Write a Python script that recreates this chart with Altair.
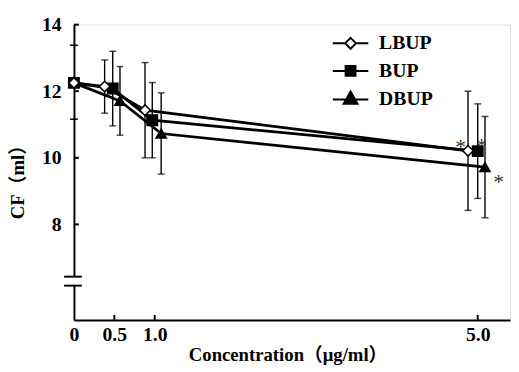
import altair as alt
import pandas as pd

# ---- data ----
series_names = ["LBUP", "BUP", "DBUP"]
tick_values = [0, 0.5, 1.0, 5.0]           # concentration ticks (ug/ml)

# plotted x positions (points are slightly staggered around each concentration)
lbup_x = [0, 0.38, 0.88, 4.88]
bup_x = [0, 0.48, 0.97, 5.00]
dbup_x = [0, 0.57, 1.08, 5.09]

lbup_y = [12.25, 12.14, 11.43, 10.21]
bup_y = [12.25, 12.08, 11.13, 10.20]
dbup_y = [12.25, 11.71, 10.73, 9.72]

lbup_sd = [0, 0.80, 1.43, 1.79]
bup_sd = [0, 1.12, 1.13, 1.42]
dbup_sd = [0, 1.03, 1.22, 1.52]

ast_x = [4.79, 5.05, 5.26]
ast_y = [10.54, 10.57, 9.47]

y_major = [8, 10, 12, 14]
y_minor = [13.38, 11.16]
x_ticks = [0.5, 1.0, 5.0]
break_y = [6.16, 6.43]

# ---- tables ----
rows = []
for name, xs_, ys_, sds in [("LBUP", lbup_x, lbup_y, lbup_sd),
                            ("BUP", bup_x, bup_y, bup_sd),
                            ("DBUP", dbup_x, dbup_y, dbup_sd)]:
    for xv, yv, sv in zip(xs_, ys_, sds):
        rows.append({"series": name, "x": xv, "y": yv, "sd": sv,
                     "lo": yv - sv, "hi": yv + sv})
df = pd.DataFrame(rows)
df_pts = df.iloc[::-1].reset_index(drop=True)   # LBUP drawn on top
err = df[df["sd"] > 0]
ast = pd.DataFrame({"x": ast_x, "y": ast_y, "t": ["*"] * len(ast_x)})
ymaj = pd.DataFrame({"y": y_major})
ymin = pd.DataFrame({"y": y_minor})
xtk = pd.DataFrame({"x": x_ticks})
brk = pd.DataFrame({"y": break_y})
gap = pd.DataFrame({"y": [break_y[0]], "y2": [break_y[1]]})

FONT = "Liberation Serif"
TFONT = "Liberation Serif, Noto Sans CJK SC"

xs = alt.Scale(domain=[0, 5.4], nice=False, zero=False)
ys = alt.Scale(domain=[5.13, 14], nice=False, zero=False)

xaxis = alt.Axis(
    values=tick_values, labelExpr="datum.value == 0 ? '0' : format(datum.value, '.1f')",
    ticks=False, grid=False, domainColor="black", domainWidth=2,
    labelFont=FONT, labelFontSize=20, labelFontWeight="bold", labelColor="black",
    labelPadding=5, labelFlush=False,
    title="Concentration（μg/ml）", titleFont=TFONT, titleFontSize=19,
    titleFontWeight="bold", titleColor="black", titleX=217, titleY=41,
    titleBaseline="alphabetic", titleAlign="center")
yaxis = alt.Axis(
    values=y_major, ticks=False, grid=False, domainColor="black", domainWidth=2,
    labelFont=FONT, labelFontSize=20, labelFontWeight="bold", labelColor="black",
    labelPadding=13,
    title="CF（ml）", titleFont=TFONT, titleFontSize=19, titleFontWeight="bold",
    titleColor="black", titleX=-57, titleY=155, titleAngle=-90,
    titleAlign="center", titleBaseline="middle")

X = alt.X("x:Q", scale=xs, axis=xaxis)
Y = alt.Y("y:Q", scale=ys, axis=yaxis)

errbars = alt.Chart(err).mark_errorbar(
    ticks={"size": 7, "thickness": 1.5, "color": "black"},
    thickness=1.4, color="black").encode(
    x=X, y=alt.Y("lo:Q", scale=ys, axis=yaxis), y2="hi:Q")

lines = alt.Chart(df).mark_line(color="black", strokeWidth=2.8).encode(
    x=X, y=Y, detail="series:N", order="x:Q")

points = alt.Chart(df_pts).mark_point(filled=True, stroke="black", strokeWidth=1.6,
                                      opacity=1).encode(
    x=X, y=Y,
    shape=alt.Shape("series:N", scale=alt.Scale(domain=series_names,
                    range=["diamond", "square", "triangle-up"]), legend=None),
    fill=alt.Fill("series:N", scale=alt.Scale(domain=series_names,
                  range=["white", "black", "black"]), legend=None),
    size=alt.Size("series:N", scale=alt.Scale(domain=series_names,
                  range=[115, 105, 175]), legend=None))

legend_paths = [
    "M-1.8,0H-0.55M0.55,0H1.8M0,-0.55L0.55,0L0,0.55L-0.55,0Z",
    "M-1.8,0H1.8M-0.5,-0.5H0.5V0.5H-0.5Z",
    "M-1.8,0H1.8M0,-0.8L0.7,0.45L-0.7,0.45Z",
]
leg = alt.Legend(orient="none", legendX=270, legendY=8, title=None,
                 labelFont=FONT, labelFontSize=20, labelFontWeight="bold",
                 labelColor="black", symbolSize=400, symbolStrokeColor="black",
                 symbolStrokeWidth=2, symbolOpacity=1, labelOffset=18,
                 rowPadding=7, padding=0)
legend_layer = alt.Chart(df).transform_filter("false").mark_point(
    filled=True, stroke="black", strokeWidth=2, opacity=1).encode(
    x=X, y=Y,
    shape=alt.Shape("series:N", scale=alt.Scale(domain=series_names,
                    range=legend_paths), legend=leg),
    fill=alt.Fill("series:N", scale=alt.Scale(domain=series_names,
                  range=["white", "black", "black"]), legend=leg),
    stroke=alt.Stroke("series:N", scale=alt.Scale(domain=series_names,
                      range=["black", "black", "black"]), legend=leg))

stars = alt.Chart(ast).mark_text(font=FONT, fontSize=22, color="#333",
                                 baseline="middle", dy=7).encode(
    x=X, y=Y, text="t:N")

ymaj_ticks = alt.Chart(ymaj).mark_rule(color="black", strokeWidth=2).encode(
    y=Y, x=alt.value(0), x2=alt.value(5))
ymin_ticks = alt.Chart(ymin).mark_rule(color="black", strokeWidth=1.5).encode(
    y=Y, x=alt.value(-4), x2=alt.value(4))
x_tick_marks = alt.Chart(xtk).mark_rule(color="black", strokeWidth=2).encode(
    x=X, y=alt.value(300), y2=alt.value(295))
gap_rule = alt.Chart(gap).mark_rule(color="white", strokeWidth=6).encode(
    x=alt.value(0), y=Y, y2="y2:Q")
brk_rules = alt.Chart(brk).mark_rule(color="black", strokeWidth=2).encode(
    y=Y, x=alt.value(-10), x2=alt.value(8))

chart = alt.layer(
    lines, errbars, ymaj_ticks, ymin_ticks, x_tick_marks, gap_rule, brk_rules,
    points, stars, legend_layer
).resolve_scale(shape="independent", fill="independent", size="independent",
                stroke="independent").properties(
    width=443, height=300,
    autosize=alt.AutoSizeParams(type="none"),
    padding={"left": 67, "top": 14, "right": 1, "bottom": 50},
).configure_view(stroke=None).configure(background="white")

chart.save("out.html", embed_options={"renderer": "svg", "actions": False})
